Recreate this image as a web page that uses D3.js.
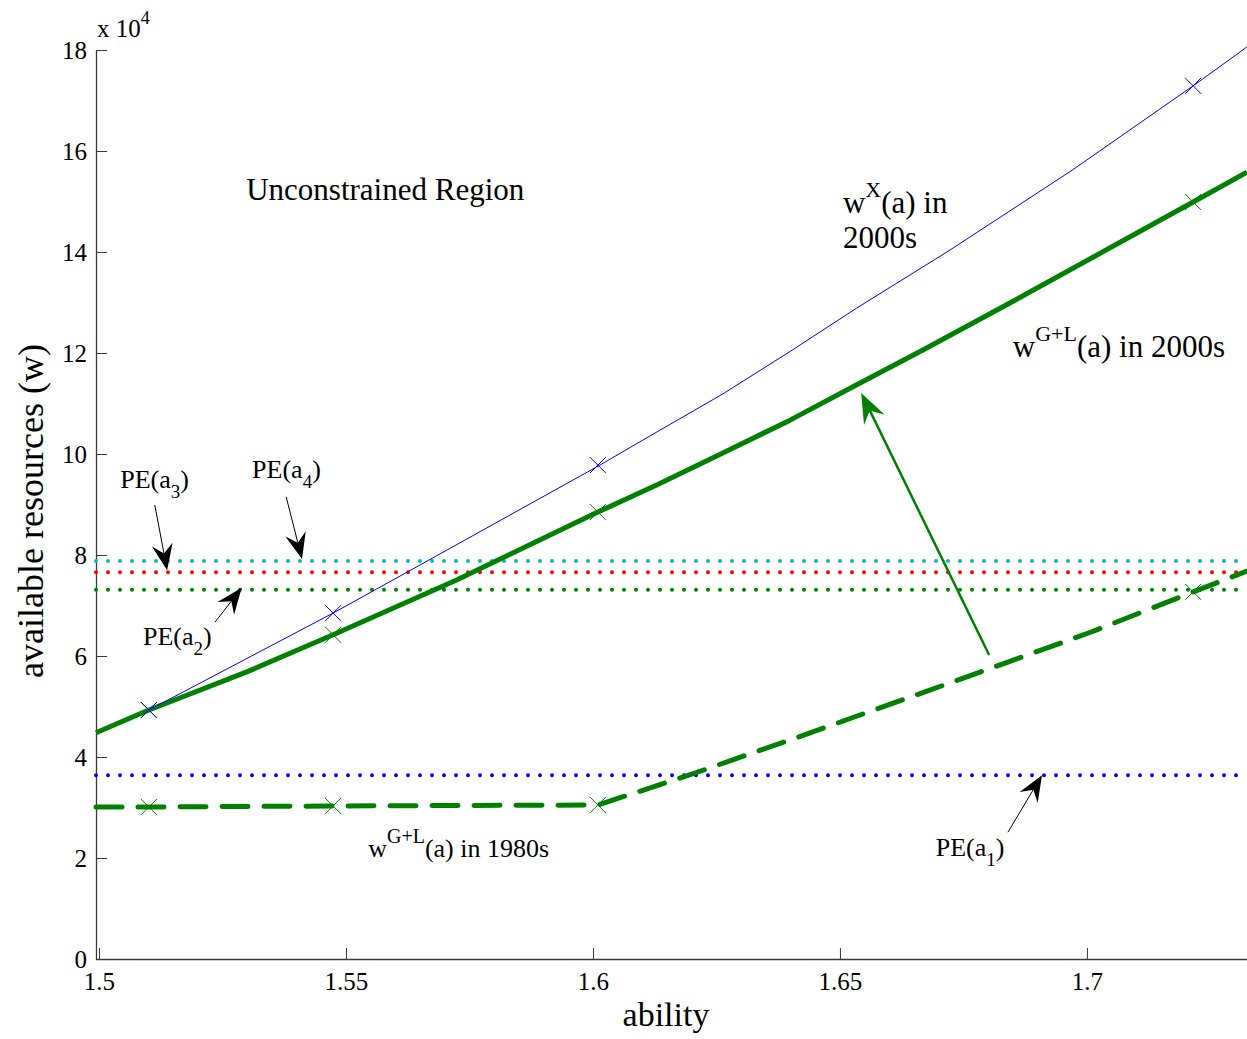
<!DOCTYPE html>
<html>
<head>
<meta charset="utf-8">
<script src="https://cdn.jsdelivr.net/npm/d3@7"></script>
<style>
  body { margin: 0; background: #fff; }
  text { font-family: "Liberation Serif", "Times New Roman", serif; fill: #000; }
</style>
</head>
<body>
<script>
var width = 1247;
var height = 1039;

// values (w in units of 10^4)
var abilityX = [1.5101, 1.5474, 1.5668, 1.6014, 1.6130, 1.6263, 1.6399, 1.6534, 1.6723, 1.6970, 1.7215, 1.7324];
var wX2000 = [4.93, 6.85, 7.90, 9.78, 10.44, 11.19, 12.03, 12.89, 14.04, 15.62, 17.29, 18.06];

var abilityGL2000 = [1.4994, 1.5101, 1.5298, 1.5474, 1.5723, 1.6010, 1.6130, 1.6263, 1.6399, 1.6534, 1.6668, 1.6844, 1.7215, 1.7324];
var wGL2000 = [4.48, 4.93, 5.68, 6.42, 7.50, 8.85, 9.39, 10.02, 10.67, 11.37, 12.06, 12.99, 14.99, 15.58];

var abilityGL1980 = [1.4994, 1.5101, 1.5474, 1.6010, 1.6188, 1.6417, 1.6672, 1.6840, 1.7010, 1.7215, 1.7324];
var wGL1980 = [3.01, 3.01, 3.03, 3.05, 3.62, 4.40, 5.29, 5.88, 6.48, 7.27, 7.68];

var markerAbility = [1.5101, 1.5474, 1.6010, 1.7215];
var markerX2000 = [4.93, 6.85, 9.78, 17.29];
var markerGL2000 = [4.93, 6.42, 8.85, 14.99];
var markerGL1980 = [3.01, 3.03, 3.05, 7.27];

var peIndex = ["1", "2", "3", "4"];
var peValues = [3.64, 7.31, 7.66, 7.88];
var peColors = ["#0000ff", "#008000", "#ff0000", "#00bfbf"];

var xTicks = [1.5, 1.55, 1.6, 1.65, 1.7];
var yTicks = [0, 2, 4, 6, 8, 10, 12, 14, 16, 18];

var svg = d3.select("body")
            .append("svg")
            .attr("width", width)
            .attr("height", height);

var x = d3.scaleLinear().domain([1.4994, 1.7324]).range([96, 1247]);
var y = d3.scaleLinear().domain([0, 18]).range([959, 50]);

var line = d3.line()
             .x(d => x(d[0]))
             .y(d => y(d[1]))
             .curve(d3.curveLinear);

function zip(a, b) { return a.map((v, i) => [v, b[i]]); }

// axes (ticks pointing inward, matlab style)
var xAxis = d3.axisBottom(x).tickValues(xTicks).tickFormat(d3.format("")).tickSizeInner(-11).tickSizeOuter(0).tickPadding(13);
var gx = svg.append("g").attr("transform", "translate(0," + y(0) + ")").call(xAxis);
var yAxis = d3.axisLeft(y).tickValues(yTicks).tickFormat(d3.format("")).tickSizeInner(-11).tickSizeOuter(0).tickPadding(9);
var gy = svg.append("g").attr("transform", "translate(" + x.range()[0] + ",0)").call(yAxis);

[gx, gy].forEach(function(g) {
    g.select(".domain").attr("stroke", "#3a3a3a").attr("stroke-width", 1.3);
    g.selectAll(".tick line").attr("stroke", "#3a3a3a");
    g.selectAll(".tick text")
        .style("font-family", "Liberation Serif, serif")
        .style("font-size", "25px")
        .attr("fill", "#000");
});

// PE levels, dotted
peValues.forEach(function(v, i) {
    svg.append("path")
        .attr("d", line([[x.domain()[0], v], [x.domain()[1], v]]))
        .attr("stroke", peColors[i])
        .attr("stroke-width", 4)
        .attr("stroke-linecap", "round")
        .attr("stroke-dasharray", "0 12")
        .attr("fill", "none");
});

// curves
svg.append("path")
    .attr("d", line(zip(abilityGL1980, wGL1980)))
    .attr("stroke", "#008000")
    .attr("stroke-width", 5)
    .attr("stroke-linecap", "round")
    .attr("stroke-dasharray", "26 16")
    .attr("fill", "none");

svg.append("path")
    .attr("d", line(zip(abilityGL2000, wGL2000)))
    .attr("stroke", "#008000")
    .attr("stroke-width", 5)
    .attr("stroke-linejoin", "round")
    .attr("fill", "none");

svg.append("path")
    .attr("d", line(zip(abilityX, wX2000)))
    .attr("stroke", "#0000ff")
    .attr("stroke-width", 1)
    .attr("fill", "none");

// x markers
function crosses(vals, color) {
    var s = 8;
    svg.append("g").selectAll("path")
        .data(zip(markerAbility, vals))
        .enter().append("path")
        .attr("d", function(d) {
            var cx = x(d[0]), cy = y(d[1]);
            return "M" + (cx - s) + "," + (cy - s) + "L" + (cx + s) + "," + (cy + s) +
                   "M" + (cx - s) + "," + (cy + s) + "L" + (cx + s) + "," + (cy - s);
        })
        .attr("stroke", color)
        .attr("stroke-width", 1)
        .attr("fill", "none");
}
crosses(markerGL1980, "#008000");
crosses(markerGL2000, "#008000");
crosses(markerX2000, "#0000ff");

// arrows: tail -> tip in data units
var arrows = [
    { from: [1.5113, 8.99], to: [1.5138, 7.70], color: "#000", w: 1, len: 26, head: 21 },
    { from: [1.5379, 9.15], to: [1.5411, 7.92], color: "#000", w: 1, len: 26, head: 21 },
    { from: [1.5235, 6.67], to: [1.5289, 7.35], color: "#000", w: 1, len: 26, head: 21 },
    { from: [1.6840, 2.51], to: [1.6909, 3.64], color: "#000", w: 1, len: 26, head: 21 },
    { from: [1.6802, 6.02], to: [1.6543, 11.21], color: "#008000", w: 2.5, len: 30, head: 23 }
];

arrows.forEach(function(a) {
    var tx = x(a.to[0]), ty = y(a.to[1]);
    var fx = x(a.from[0]), fy = y(a.from[1]);
    var dx = fx - tx, dy = fy - ty;
    var d = Math.sqrt(dx * dx + dy * dy);
    var ux = dx / d, uy = dy / d, nx = -uy, ny = ux;
    var bx = tx + ux * a.len, by = ty + uy * a.len;
    var mx = tx + ux * a.len * 0.65, my = ty + uy * a.len * 0.65;
    svg.append("line")
        .attr("x1", fx).attr("y1", fy)
        .attr("x2", mx).attr("y2", my)
        .attr("stroke", a.color)
        .attr("stroke-width", a.w);
    svg.append("path")
        .attr("d", "M" + tx + "," + ty +
                   "L" + (bx + nx * a.head / 2) + "," + (by + ny * a.head / 2) +
                   "L" + mx + "," + my +
                   "L" + (bx - nx * a.head / 2) + "," + (by - ny * a.head / 2) + "Z")
        .attr("fill", a.color);
});

// text with super/subscripts: parts = [text, shift, size]
function richText(px, py, size, parts) {
    var t = svg.append("text")
        .attr("x", px)
        .attr("y", py)
        .style("font-size", size + "px");
    var prev = 0;
    parts.forEach(function(p) {
        t.append("tspan")
            .attr("dy", p[1] - prev)
            .style("font-size", (p[2] || size) + "px")
            .text(p[0]);
        prev = p[1];
    });
    return t;
}

richText(x(1.5298), y(15.03), 31, [["Unconstrained Region", 0]]);
richText(x(1.6506), y(14.77), 31, [["w", 0], ["X", -16, 22], ["(a) in", 0]]);
richText(x(1.6506), y(14.08), 31, [["2000s", 0]]);
richText(x(1.6850), y(11.92), 31, [["w", 0], ["G+L", -16, 22], ["(a) in 2000s", 0]]);
richText(x(1.5545), y(2.02), 26, [["w", 0], ["G+L", -14, 20], ["(a) in 1980s", 0]]);

var peText = [
    { at: [1.5043, 9.33], i: "3" },
    { at: [1.5310, 9.52], i: "4" },
    { at: [1.5089, 6.22], i: "2" },
    { at: [1.6694, 2.04], i: "1" }
];
peText.forEach(function(p) {
    richText(x(p.at[0]), y(p.at[1]), 26, [["PE(a", 0], [p.i, 10, 19], [")", 0]]);
});

// exponent on the y axis
richText(97, 37, 25, [["x 10", 0], ["4", -13, 18]]);

// axis titles
svg.append("text")
    .attr("x", 666)
    .attr("y", 1026)
    .style("text-anchor", "middle")
    .style("font-size", "34px")
    .text("ability");

svg.append("text")
    .attr("transform", "translate(43,511) rotate(-90)")
    .style("text-anchor", "middle")
    .style("font-size", "36px")
    .text("available resources (w)");
</script>
</body>
</html>
